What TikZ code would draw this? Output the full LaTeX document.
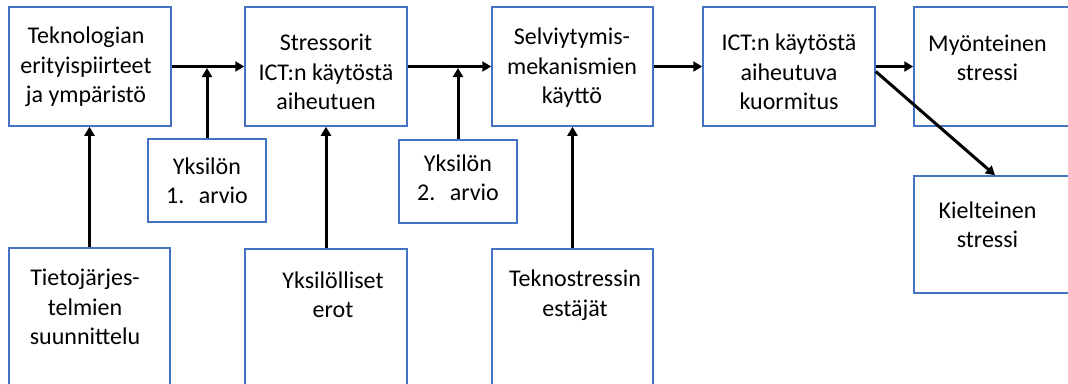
\documentclass[tikz,border=0pt]{standalone}
\usepackage{fontspec}
\setmainfont{Carlito}
\usetikzlibrary{arrows.meta}
\definecolor{boxblue}{RGB}{68,114,196}
\begin{document}
\begin{tikzpicture}[x=1pt,y=-1pt,
  box/.style={draw=boxblue, line width=1.5pt, rectangle, inner sep=0pt},
  txt/.style={align=center, font=\fontsize{24}{29.5}\selectfont, inner sep=0pt},
  arr/.style={line width=3pt, -{Triangle[length=9pt,width=10pt]}}]
\useasboundingbox (0,0) rectangle (1068,383);
\clip (0,0) rectangle (1068,383);
% boxes
\node[box, minimum width=162pt, minimum height=119pt] (A) at (90,66.5) {};
\node[box, minimum width=162pt, minimum height=119pt] (B) at (326,66.5) {};
\node[box, minimum width=161pt, minimum height=119pt] (C) at (572.5,66.5) {};
\node[box, minimum width=172pt, minimum height=119pt] (D) at (789,66.5) {};
\node[box, minimum width=162pt, minimum height=119pt] (E) at (995,66.5) {};
\node[box, minimum width=162pt, minimum height=117pt] (F) at (995,234.5) {};
\node[box, minimum width=118pt, minimum height=83pt] (Y1) at (207,180.5) {};
\node[box, minimum width=118pt, minimum height=83pt] (Y2) at (458,181.5) {};
\node[box, minimum width=161pt, minimum height=152pt] (T1) at (89.5,324) {};
\node[box, minimum width=162pt, minimum height=152pt] (T2) at (326,325) {};
\node[box, minimum width=161pt, minimum height=152pt] (T3) at (572.5,325) {};
% texts
\node[txt] (At) at (86,67) {Teknologian\\erityispiirteet\\ja ympäristö};
\node[txt] (Bt) at (326,72) {Stressorit\\ICT:n käytöstä\\aiheutuen};
\node[txt] (Ct) at (572,68) {Selviytymis-\\mekanismien\\käyttö};
\node[txt] (Dt) at (789,72) {ICT:n käytöstä\\aiheutuva\\kuormitus};
\node[txt] (Et) at (987.5,58) {Myönteinen\\stressi};
\node[txt] (Ft) at (987.5,225) {Kielteinen\\stressi};
\node[txt] (Y1t) at (207,181) {Yksilön\\1.\hspace{0.6em}arvio};
\node[txt] (Y2t) at (458,178) {Yksilön\\2.\hspace{0.6em}arvio};
\node[txt] (T1t) at (85,307) {Tietojärjes-\\telmien\\suunnittelu};
\node[txt] (T2t) at (333,295) {Yksilölliset\\erot};
\node[txt] (T3t) at (575,295) {Teknostressin\\estäjät};
% connectors
\draw[arr] (A.east) -- (B.west);
\draw[arr, shorten >=1.5pt] (Y1.north) -- (Y1.north |- A.east);
\draw[arr] (T1.north) -- (T1.north |- A.south);
\draw[arr] (B.east) -- (C.west);
\draw[arr, shorten >=1.5pt] (Y2.north) -- (Y2.north |- B.east);
\draw[arr] (T2.north) -- (B.south);
\draw[arr] (T3.north) -- (C.south);
\draw[arr] (C.east) -- (D.west);
\draw[arr] (D.east) -- (E.west);
\draw[arr] ([yshift=-5pt]D.east) -- (F.north);
\end{tikzpicture}
\end{document}
